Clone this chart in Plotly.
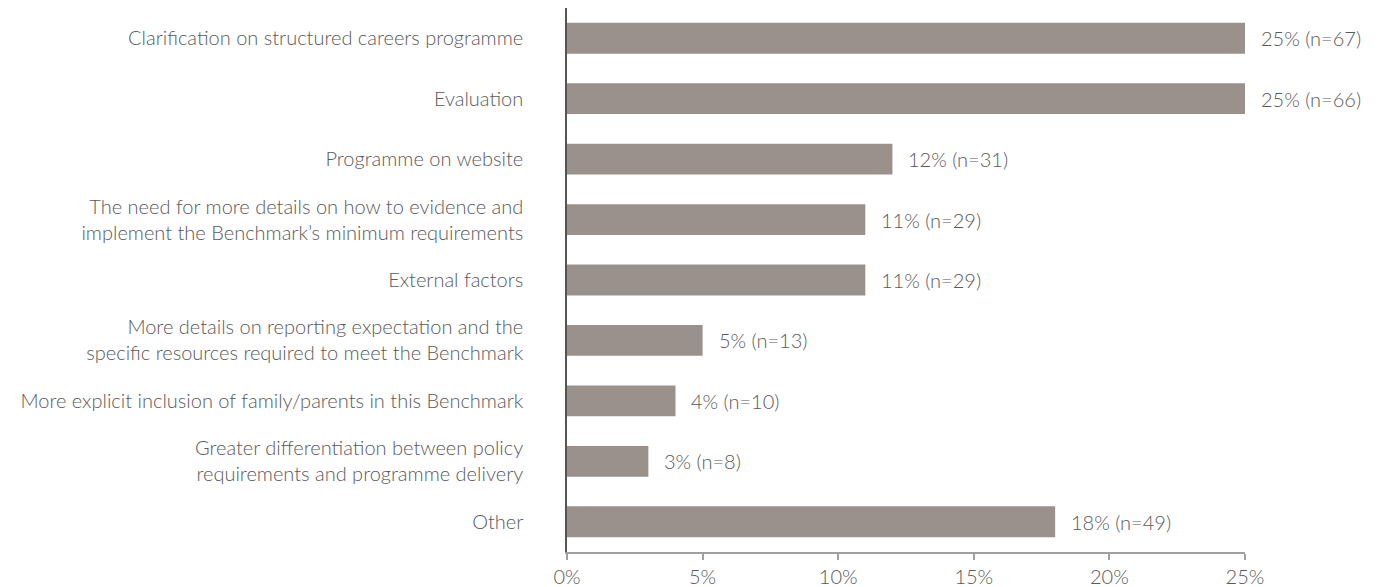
import plotly.graph_objects as go

categories = [
    "Clarification on structured careers programme",
    "Evaluation",
    "Programme on website",
    "The need for more details on how to evidence and<br>implement the Benchmark’s minimum requirements",
    "External factors",
    "More details on reporting expectation and the<br>specific resources required to meet the Benchmark",
    "More explicit inclusion of family/parents in this Benchmark",
    "Greater differentiation between policy<br>requirements and programme delivery",
    "Other",
]
percentages = [25, 25, 12, 11, 11, 5, 4, 3, 18]
counts = [67, 66, 31, 29, 29, 13, 10, 8, 49]
x_ticks = [0, 5, 10, 15, 20, 25]

labels = [f"{p}% (n={n})" for p, n in zip(percentages, counts)]

FONT = "Lato"
TXT = "#5a5a5a"
FS = 20

fig = go.Figure(go.Bar(
    y=categories,
    x=percentages,
    orientation="h",
    marker=dict(color="#9b918c", line=dict(width=0)),
    width=0.51,
    hoverinfo="skip",
))

for c, p, l in zip(categories, percentages, labels):
    fig.add_annotation(x=p, y=c, text=l, xanchor="left", xshift=14,
                       showarrow=False,
                       font=dict(family=FONT, size=FS, color=TXT, weight=300))

fig.update_layout(
    width=1374, height=579,
    margin=dict(l=559, r=137, t=0, b=35, autoexpand=False),
    paper_bgcolor="white", plot_bgcolor="white",
    showlegend=False,
    font=dict(family=FONT, size=FS, color=TXT, weight=300),
    xaxis=dict(
        range=[0, 25], tickvals=x_ticks, ticktext=[f"{v}%" for v in x_ticks],
        showgrid=False, zeroline=False, showline=True, linecolor="#a0a0a0", linewidth=1.5,
        ticks="outside", ticklen=6, tickcolor="#a0a0a0", tickwidth=1.5,
        tickfont=dict(family=FONT, size=FS, color=TXT, weight=300),
    ),
    yaxis=dict(
        categoryorder="array", categoryarray=categories[::-1],
        showgrid=False, zeroline=False, showline=True, linecolor="#555555", linewidth=1.5,
        ticks="", ticklabelstandoff=38,
        tickfont=dict(family=FONT, size=FS, color=TXT, weight=300),
    ),
)

fig.write_html("out.html")
